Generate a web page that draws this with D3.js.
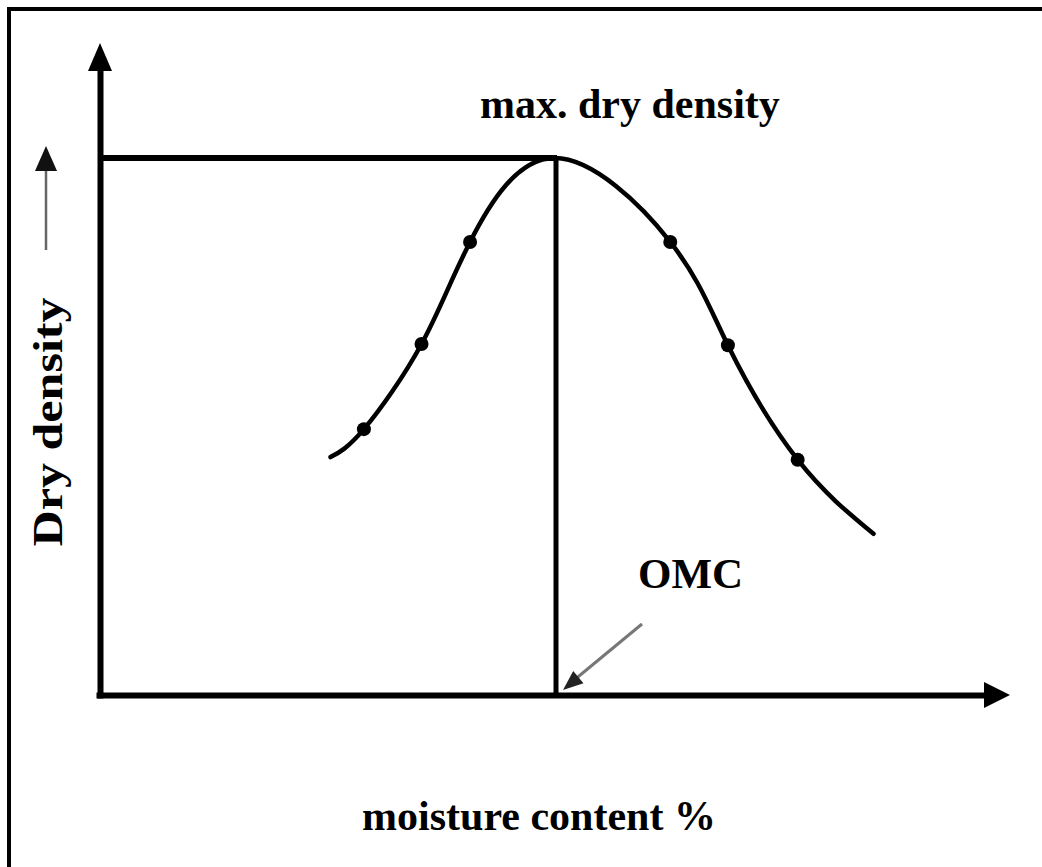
<!DOCTYPE html>
<html>
<head>
<meta charset="utf-8">
<script src="https://cdn.jsdelivr.net/npm/d3@7"></script>
<style>
  html, body { margin: 0; padding: 0; background: #fff; }
  svg { display: block; }
  text { font-family: "Liberation Serif", "Times New Roman", serif; font-weight: bold; fill: #000; }
</style>
</head>
<body>
<svg id="chart" width="1042" height="867"></svg>
<script>
// ---- data (arbitrary units) ----
const curveMoisture = [7.6, 8.7, 10.6, 12.2, 15.0, 18.8, 20.7, 23.0, 25.5];
const curveDensity  = [36.6, 40.9, 54.0, 69.7, 82.6, 69.7, 53.8, 36.2, 24.8];
const testMoisture  = [8.7, 10.6, 12.2, 18.8, 20.7, 23.0];
const testDensity   = [40.9, 54.0, 69.7, 69.7, 53.8, 36.2];
const omc = 15.0;
const maxDensity = 82.6;
const labels = { y: "Dry density", x: "moisture content %", peak: "max. dry density", omc: "OMC" };

// ---- layout ----
const svg = d3.select("#chart");
const x = d3.scaleLinear().domain([0, 30]).range([100, 1010]);
const y = d3.scaleLinear().domain([0, 100]).range([695, 45]);

// frame (top and left edges visible)
svg.append("path")
  .attr("d", "M9,867 V9 H1042")
  .attr("fill", "none").attr("stroke", "#000").attr("stroke-width", 4);

// axes (no ticks), with arrowheads
const xAxis = d3.axisBottom(x.copy().range([96, 988])).ticks(0).tickSizeOuter(0);
const gx = svg.append("g").attr("transform", `translate(0,${y(0)})`).call(xAxis);
gx.select(".domain").attr("stroke", "#000").attr("stroke-width", 6);

const yAxis = d3.axisLeft(y.copy().range([698, 68])).ticks(0).tickSizeOuter(0);
const gy = svg.append("g").attr("transform", `translate(${x(0)},0)`).call(yAxis);
gy.select(".domain").attr("stroke", "#000").attr("stroke-width", 6);

const xEnd = x.range()[1], yEnd = y.range()[1];
svg.append("path")
  .attr("d", `M${xEnd},${y(0)} L${xEnd - 26},${y(0) - 13} L${xEnd - 26},${y(0) + 13} Z`)
  .attr("fill", "#000");
svg.append("path")
  .attr("d", `M${x(0)},${yEnd - 2} L${x(0) - 12},${yEnd + 26} L${x(0) + 12},${yEnd + 26} Z`)
  .attr("fill", "#000");

// max dry density reference lines
svg.append("line")
  .attr("x1", x(0)).attr("x2", x(omc) + 2)
  .attr("y1", y(maxDensity)).attr("y2", y(maxDensity))
  .attr("stroke", "#000").attr("stroke-width", 6);
svg.append("line")
  .attr("x1", x(omc) + 1).attr("x2", x(omc) + 1)
  .attr("y1", y(maxDensity)).attr("y2", y(0))
  .attr("stroke", "#000").attr("stroke-width", 5);

// compaction curve
const pts = curveMoisture.map((m, i) => [m, curveDensity[i]]);
const line = d3.line().x(d => x(d[0])).y(d => y(d[1])).curve(d3.curveNatural);
svg.append("path")
  .attr("d", line(pts))
  .attr("fill", "none").attr("stroke", "#000").attr("stroke-width", 4.5)
  .attr("stroke-linecap", "round");

// test points
svg.selectAll("circle.pt")
  .data(testMoisture.map((m, i) => [m, testDensity[i]]))
  .join("circle")
  .attr("class", "pt")
  .attr("cx", d => x(d[0])).attr("cy", d => y(d[1]))
  .attr("r", 7).attr("fill", "#000");

// labels
svg.append("text")
  .attr("x", 480).attr("y", 118)
  .attr("font-size", 42)
  .text(labels.peak);

svg.append("text")
  .attr("x", 638).attr("y", 588)
  .attr("font-size", 43)
  .text(labels.omc);

svg.append("text")
  .attr("x", 539).attr("y", 830)
  .attr("text-anchor", "middle")
  .attr("font-size", 42)
  .text(labels.x);

svg.append("text")
  .attr("transform", "translate(62,422) rotate(-90)")
  .attr("text-anchor", "middle")
  .attr("font-size", 42)
  .attr("textLength", 249)
  .attr("lengthAdjust", "spacingAndGlyphs")
  .text(labels.y);

// small direction arrow beside y label
svg.append("line")
  .attr("x1", 46).attr("x2", 46).attr("y1", 250).attr("y2", 168)
  .attr("stroke", "#666").attr("stroke-width", 2.5);
svg.append("path")
  .attr("d", "M46,146 L35,171 L57,171 Z")
  .attr("fill", "#111");

// OMC pointer arrow
const tipX = x(omc) + 8, tipY = y(0) - 5;
svg.append("line")
  .attr("x1", 642).attr("y1", 624).attr("x2", tipX + 10).attr("y2", tipY - 9)
  .attr("stroke", "#777").attr("stroke-width", 3);
const ang = Math.atan2(624 - tipY, 642 - tipX);
const L = 20, W = 8;
const bx = tipX + L * Math.cos(ang), by = tipY + L * Math.sin(ang);
svg.append("path")
  .attr("d", `M${tipX},${tipY} L${bx - W * Math.sin(ang)},${by + W * Math.cos(ang)} L${bx + W * Math.sin(ang)},${by - W * Math.cos(ang)} Z`)
  .attr("fill", "#222");
</script>
</body>
</html>
